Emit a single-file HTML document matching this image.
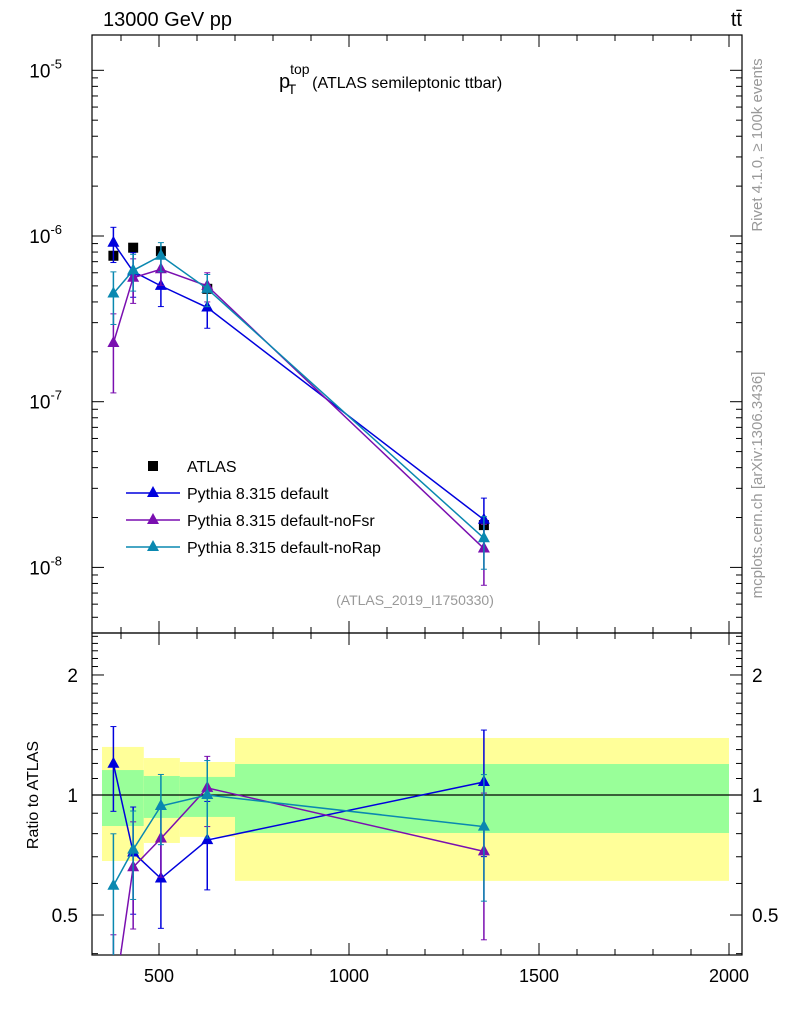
<!DOCTYPE html>
<html><head><meta charset="utf-8"><style>
html,body{margin:0;background:#fff;overflow:hidden;width:786px;height:1024px}
svg{display:block;font-family:"Liberation Sans",sans-serif}
</style></head><body>
<svg id="c" width="786" height="1024"></svg>
<script>
const xVals=[380,432,505,627,1355];
const atlas=[7.6e-7,8.5e-7,8.1e-7,4.8e-7,1.8e-8];
const atlasErr=[0.06,0.05,0.05,0.05,0.08];
const pyDefault=[9.1e-7,6.1e-7,5.0e-7,3.7e-7,1.94e-8];
const pyDefaultErr=[0.24,0.3,0.25,0.25,0.35];
const pyNoFsr=[2.26e-7,5.6e-7,6.3e-7,5.0e-7,1.3e-8];
const pyNoFsrErr=[0.5,0.3,0.2,0.2,0.4];
const pyNoRap=[4.5e-7,6.2e-7,7.6e-7,4.8e-7,1.5e-8];
const pyNoRapErr=[0.35,0.25,0.2,0.22,0.35];
const bandEdges=[350,460,555,700,2000];
const bandYelLo=[0.683,0.758,0.785,0.609];
const bandYelHi=[1.32,1.238,1.21,1.39];
const bandGrnLo=[0.836,0.876,0.881,0.803];
const bandGrnHi=[1.155,1.116,1.11,1.196];
const xTicks=[500,1000,1500,2000];
const yDecades=[-8,-7,-6,-5];
const rTicks=[0.5,1,2];

const NS="http://www.w3.org/2000/svg";
const svg=document.getElementById('c');
const L=92,R=742,T=35,M=633,B=955;
const X=v=>159+(v-500)*0.38;
const Y=v=>236-165.7*Math.log10(v/1e-6);
const RY=r=>795-398.7*Math.log10(r);
function el(tag,attrs,parent){const e=document.createElementNS(NS,tag);for(const k in attrs)e.setAttribute(k,attrs[k]);(parent||svg).appendChild(e);return e;}
function txt(s,x,y,size,anchor,fill,parent){const t=el('text',{x:x,y:y,'font-size':size,'text-anchor':anchor||'start',fill:fill||'#000'},parent);t.textContent=s;return t;}

const gBand=el('g',{});


for(let i=0;i<bandYelLo.length;i++){
  const x0=X(bandEdges[i]),x1=X(bandEdges[i+1]);
  const y=el('rect',{x:x0,y:RY(bandYelHi[i]),width:x1-x0,height:RY(bandYelLo[i])-RY(bandYelHi[i]),fill:'#ffff99'},gBand);
  
  
  const g=el('rect',{x:x0,y:RY(bandGrnHi[i]),width:x1-x0,height:RY(bandGrnLo[i])-RY(bandGrnHi[i]),fill:'#99ff99'},gBand);
  
  
}
el('line',{x1:L,x2:R,y1:RY(1),y2:RY(1),stroke:'#000','stroke-width':1.2});

const f1=el('rect',{x:L,y:T,width:R-L,height:M-T,fill:'none',stroke:'#000','stroke-width':1.2});


const f2=el('rect',{x:L,y:M,width:R-L,height:B-M,fill:'none',stroke:'#000','stroke-width':1.2});



for(let v=400;v<=2000;v+=100){
  const x=X(v);const big=v%500===0;const len=big?12:6;
  for(const [a,b] of [[T,M],[M,B]]){
    el('line',{x1:x,x2:x,y1:a,y2:a+len,stroke:'#000'});
    el('line',{x1:x,x2:x,y1:b,y2:b-len,stroke:'#000'});
  }
}
xTicks.forEach(v=>{const t=txt(String(v),X(v),982,18,'middle');

});

for(let d=-9;d<=-5;d++){
  for(let m=1;m<10;m++){
    const v=m*Math.pow(10,d);const y=Y(v);
    if(y<T||y>M)continue;
    const len=m===1?12:6;
    el('line',{x1:L,x2:L+len,y1:y,y2:y,stroke:'#000'});
    el('line',{x1:R,x2:R-len,y1:y,y2:y,stroke:'#000'});
  }
}
yDecades.forEach(d=>{
  const y=Y(Math.pow(10,d));
  const t=el('text',{x:62,y:y+7,'font-size':19,'text-anchor':'end'});
  t.textContent='10';
  
  
  const s=el('tspan',{dy:-9,'font-size':13},t);s.textContent=String(d);
});

for(let r=0.4;r<=2.5;r=Math.round((r+0.1)*10)/10){
  const y=RY(r);if(y<M||y>B)continue;
  const big=rTicks.includes(r);const len=big?12:6;
  el('line',{x1:L,x2:L+len,y1:y,y2:y,stroke:'#000'});
  el('line',{x1:R,x2:R-len,y1:y,y2:y,stroke:'#000'});
}
rTicks.forEach(r=>{
  const a=txt(String(r),78,RY(r)+7,19,'end');
  
  
  const b=txt(String(r),752,RY(r)+7,19,'start');
  
  
});

const defs=el('defs',{});
const c1=el('clipPath',{id:'cm'},defs);el('rect',{x:L,y:T,width:R-L,height:M-T},c1);
const c2=el('clipPath',{id:'cr'},defs);el('rect',{x:L,y:M,width:R-L,height:B-M},c2);

function tri(g,x,y,col){el('path',{d:`M${x} ${y-7}L${x+6} ${y+4}L${x-6} ${y+4}Z`,fill:col},g);}
function series(vals,errs,col,name){
  const g=el('g',{'clip-path':'url(#cm)'});
  
  
  el('polyline',{points:xVals.map((x,i)=>X(x)+','+Y(vals[i])).join(' '),fill:'none',stroke:col,'stroke-width':1.5},g);
  vals.forEach((v,i)=>{const x=X(xVals[i]);const y1=Y(v*(1+errs[i])),y2=Y(v*(1-errs[i]));
    el('line',{x1:x,x2:x,y1:y1,y2:y2,stroke:col,'stroke-width':1.5},g);
    el('line',{x1:x-3,x2:x+3,y1:y1,y2:y1,stroke:col},g);el('line',{x1:x-3,x2:x+3,y1:y2,y2:y2,stroke:col},g);
    tri(g,x,Y(v),col);});
  const h=el('g',{'clip-path':'url(#cr)'});
  
  
  const rat=vals.map((v,i)=>v/atlas[i]);
  el('polyline',{points:xVals.map((x,i)=>X(x)+','+RY(rat[i])).join(' '),fill:'none',stroke:col,'stroke-width':1.5},h);
  rat.forEach((r,i)=>{const x=X(xVals[i]);const y1=RY(r*(1+errs[i])),y2=RY(Math.max(0.01,r*(1-errs[i])));
    el('line',{x1:x,x2:x,y1:y1,y2:y2,stroke:col,'stroke-width':1.5},h);
    el('line',{x1:x-3,x2:x+3,y1:y1,y2:y1,stroke:col},h);el('line',{x1:x-3,x2:x+3,y1:y2,y2:y2,stroke:col},h);
    tri(h,x,RY(r),col);});
}
const ga=el('g',{});


atlas.forEach((v,i)=>{const x=X(xVals[i]);
  el('line',{x1:x,x2:x,y1:Y(v*(1+atlasErr[i])),y2:Y(v*(1-atlasErr[i])),stroke:'#000'},ga);
  el('rect',{x:x-5,y:Y(v)-5,width:10,height:10,fill:'#000'},ga);});
series(pyDefault,pyDefaultErr,'#0000dd','pythia-default');
series(pyNoFsr,pyNoFsrErr,'#7a0fb0','pythia-nofsr');
series(pyNoRap,pyNoRapErr,'#0a88b0','pythia-norap');

const leg=[['ATLAS','#000'],['Pythia 8.315 default','#0000dd'],['Pythia 8.315 default-noFsr','#7a0fb0'],['Pythia 8.315 default-noRap','#0a88b0']];
leg.forEach((e,i)=>{
  const y=466+i*27;
  const g=el('g',{});
  
  
  if(i===0){el('rect',{x:148,y:y-5,width:10,height:10,fill:'#000'},g);}
  else{el('line',{x1:126,x2:180,y1:y,y2:y,stroke:e[1],'stroke-width':1.5},g);tri(g,153,y,e[1]);}
  txt(e[0],187,y+6,16,'start','#000',g);
});

const t1=txt('13000 GeV pp',103,26,20);


const t2=txt('tt̄',742,26,20,'end');


const pt=el('text',{x:279,y:88,'font-size':20});


pt.innerHTML='p<tspan dy="-14" font-size="14">top</tspan><tspan dx="-22" dy="20" font-size="14">T</tspan><tspan dx="16" dy="-6" font-size="16">(ATLAS semileptonic ttbar)</tspan>';
const an=txt('(ATLAS_2019_I1750330)',415,605,14,'middle','#999');


const ry=el('text',{x:0,y:0,'font-size':16,'text-anchor':'middle',transform:'translate(38,795) rotate(-90)'});
ry.textContent='Ratio to ATLAS';


const s1=el('text',{x:0,y:0,'font-size':15,'text-anchor':'middle',fill:'#999',transform:'translate(762,145) rotate(-90)'});
s1.textContent='Rivet 4.1.0, ≥ 100k events';


const s2=el('text',{x:0,y:0,'font-size':15,'text-anchor':'middle',fill:'#999',transform:'translate(762,485) rotate(-90)'});
s2.textContent='mcplots.cern.ch [arXiv:1306.3436]';


</script>
</body></html>
